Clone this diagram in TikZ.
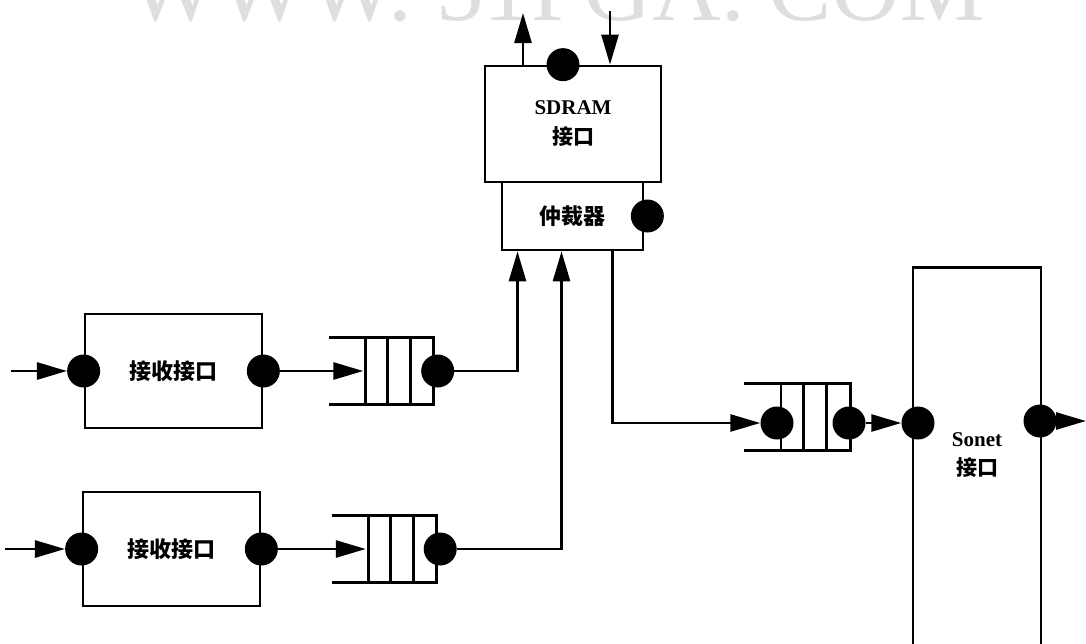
\documentclass[tikz,border=0pt]{standalone}
\usepackage{fontspec}
\setmainfont{Liberation Serif}
\newfontfamily\cjk{Noto Sans CJK SC}
\usetikzlibrary{arrows.meta,positioning,calc}
\definecolor{wmgray}{gray}{0.87}
\tikzset{
  unit/.style={draw,line width=2.7pt,inner sep=0pt,align=center,
               font=\fontsize{21}{30}\selectfont},
  rxbox/.style={unit,minimum width=177pt,minimum height=114pt,
                font=\cjk\bfseries\fontsize{22}{26}\selectfont},
  port/.style={circle,fill=black,minimum size=33pt,inner sep=0pt},
  fifo/.style={minimum width=104pt,minimum height=66pt,inner sep=0pt},
  lbl/.style={align=center,inner sep=0pt,font=\bfseries\fontsize{21}{29}\selectfont},
  wire/.style={line width=2.7pt},
  arr/.style={wire,-{Triangle[length=30pt,width=17pt]}},
}

\begin{document}
\begin{tikzpicture}[x=1pt,y=-1pt]
  \clip (0,0) rectangle (1086,643);
  \node[text=wmgray,anchor=base west,inner sep=0pt,font=\fontsize{95}{95}\selectfont] (wm) at (128,20) {WWW. 51PGA. COM};
  % memory side
  \node[unit,minimum width=176pt,minimum height=116pt,font=\bfseries\fontsize{21}{30}\selectfont] (sdram) at (573,124) {SDRAM\\{\cjk 接口}};
  \node[unit,minimum width=141pt,minimum height=68pt,font=\cjk\bfseries\fontsize{22}{26}\selectfont] (arb) at (572.5,216) {仲裁器};
  \node[port] (memp) at ([xshift=-10pt]sdram.north) {};
  \node[port] (arbp) at ([xshift=3pt]arb.east) {};
  \coordinate (rdtop) at (523,13);
  \coordinate (wrtop) at (610,11);
  \draw[arr] (rdtop |- sdram.north) -- (rdtop);
  \draw[arr] (wrtop) -- (wrtop |- sdram.north);
  % receive side
  \node[rxbox] (rx1) at (173.5,371) {接收接口};
  \node[rxbox] (rx2) at (171.5,549) {接收接口};
  \node[fifo] (q1) at (381.5,371) {};
  \node[fifo] (q2) at (384,549) {};
  % transmit side
  \node[fifo,minimum width=106pt] (q3) at (797,417) {};
  \node[unit,minimum width=128pt,minimum height=420pt,anchor=north] (sonet) at (977,266) {};
  \node[lbl] (sntxt) at (977,455) {Sonet\\{\cjk 接口}};
  \foreach \q in {q1,q2,q3} {
    \draw[wire] (\q.north west) -- (\q.north east) -- (\q.south east) -- (\q.south west);
    \foreach \f in {0.35,0.56,0.78}
      \draw[wire] ($(\q.north west)!\f!(\q.north east)$) -- ($(\q.south west)!\f!(\q.south east)$);
  }
  \node[port] (rx1a) at (rx1.west) {};
  \node[port] (rx1b) at (rx1.east) {};
  \node[port] (rx2a) at (rx2.west) {};
  \node[port] (rx2b) at (rx2.east) {};
  \node[port] (q1p) at ([xshift=4pt]q1.east) {};
  \node[port] (q2p) at ([xshift=4pt]q2.east) {};
  \node[port] (q3a) at (777,423) {};
  \node[port] (q3b) at (849,423) {};
  \node[port] (sna) at (918,423) {};
  \node[port] (snb) at (1040,421) {};
  \coordinate (in1) at ([xshift=-56pt]rx1a.west);
  \coordinate (in2) at ([xshift=-60pt]rx2a.west);
  \coordinate (out) at (1086,421);
  \draw[arr] (in1) -- (rx1a.west);
  \draw[arr] (in2) -- (rx2a.west);
  \draw[arr] (rx1b.east) -- ([xshift=34pt]q1.west);
  \draw[arr] (rx2b.east) -- ([xshift=34pt]q2.west);
  \draw[arr] (q1p.east) -| ([xshift=-55pt]arb.south);
  \draw[arr] (q2p.east) -| ([xshift=-11pt]arb.south);
  \draw[arr] ([xshift=40pt]arb.south) |- (q3a.west);
  \draw[arr] (q3b.east) -- (sna.west);
  \draw[arr] (snb.east) -- (out);
\end{tikzpicture}
\end{document}
